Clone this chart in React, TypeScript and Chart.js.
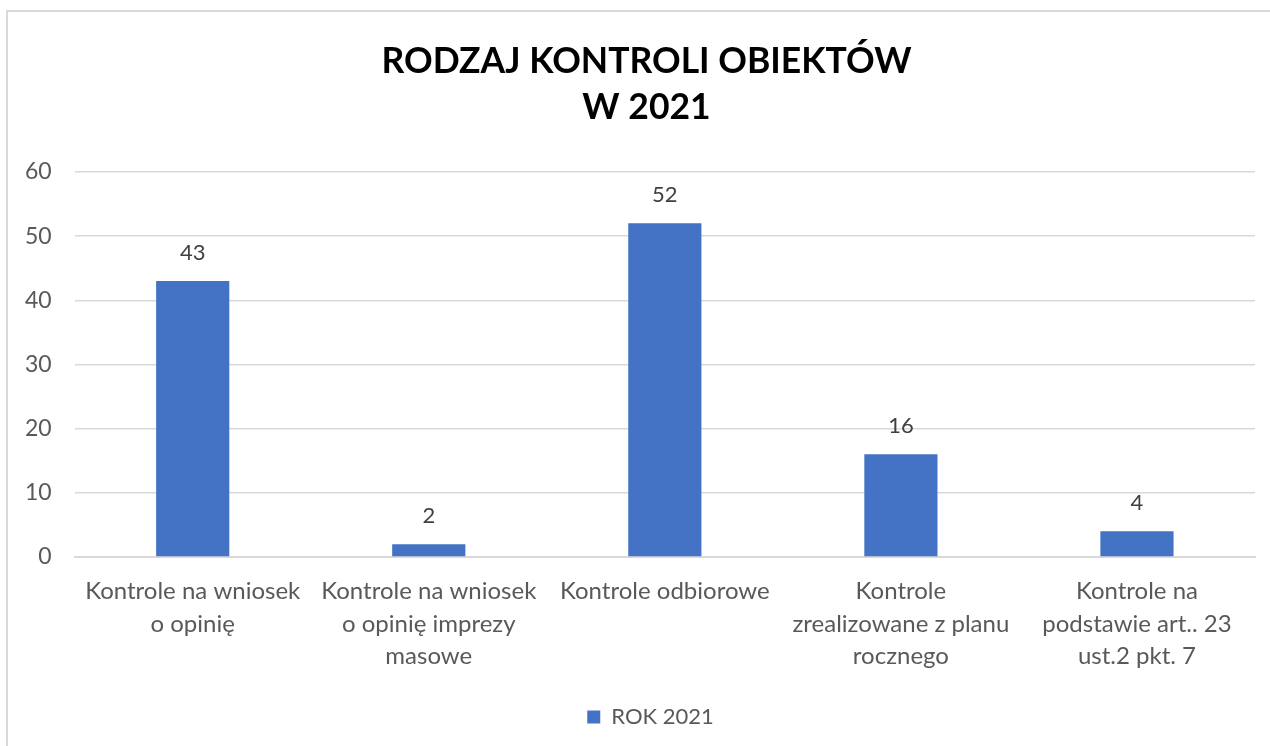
import React, { useEffect, useRef } from "react";
import { Chart, registerables } from "chart.js";

Chart.register(...registerables);

const categories: string[][] = [
  ["Kontrole na wniosek", "o opinię"],
  ["Kontrole na wniosek", "o opinię imprezy", "masowe"],
  ["Kontrole odbiorowe"],
  ["Kontrole", "zrealizowane z planu", "rocznego"],
  ["Kontrole na", "podstawie art.. 23", "ust.2 pkt. 7"],
];
const values: number[] = [43, 2, 52, 16, 4];
const seriesName = "ROK 2021";
const titleLines = ["RODZAJ KONTROLI OBIEKTÓW", "W 2021"];
const yTicks = { min: 0, max: 60, step: 10 };

const FONT = "Lato, 'Open Sans', sans-serif";

const dataLabels = {
  id: "dataLabels",
  afterLayout(chart: any) {
    if (chart.titleBlock) {
      chart.titleBlock.left += 18;
      chart.titleBlock.right += 18;
    }
    if (chart.legend) {
      chart.legend.left += 22;
      chart.legend.right += 22;
    }
  },
  afterDatasetsDraw(chart: any) {
    const ctx = chart.ctx;
    const meta = chart.getDatasetMeta(0);
    ctx.save();
    ctx.font = `22px ${FONT}`;
    ctx.fillStyle = "#404040";
    ctx.textAlign = "center";
    ctx.textBaseline = "alphabetic";
    meta.data.forEach((bar: any, i: number) => {
      ctx.fillText(String(values[i]), bar.x, bar.y - 21);
    });
    ctx.restore();
  },
};

export default function App() {
  const ref = useRef<HTMLCanvasElement>(null);
  useEffect(() => {
    if (!ref.current) return;
    const chart = new Chart(ref.current, {
      type: "bar",
      data: {
        labels: categories,
        datasets: [
          {
            label: seriesName,
            data: values,
            backgroundColor: "#4472C4",
            barPercentage: 1,
            categoryPercentage: 0.31,
          },
        ],
      },
      options: {
        animation: false,
        responsive: true,
        maintainAspectRatio: false,
        layout: { padding: { left: 2, right: 15, top: 30, bottom: 8 } },
        plugins: {
          title: {
            display: true,
            text: titleLines,
            color: "#000000",
            font: { family: FONT, size: 35.5, weight: "bold", lineHeight: 1.296 },
            padding: { top: 9, bottom: 41 },
          },
          legend: {
            display: true,
            position: "bottom",
            labels: {
              color: "#595959",
              font: { family: FONT, size: 22 },
              boxWidth: 13,
              boxHeight: 13,
              padding: 10,
            },
          },
          tooltip: { enabled: false },
        },
        scales: {
          x: {
            grid: { display: false },
            border: { display: true, color: "#d9d9d9", width: 2 },
            ticks: {
              color: "#595959",
              font: { family: FONT, size: 24, lineHeight: 1.36 },
              padding: 10,
              maxRotation: 0,
              autoSkip: false,
            },
            afterFit(scale: any) {
              scale.height = 139;
            },
          },
          y: {
            min: yTicks.min,
            max: yTicks.max,
            grid: { color: "#d9d9d9", lineWidth: 1.5, drawTicks: false },
            border: { display: false },
            ticks: {
              stepSize: yTicks.step,
              color: "#595959",
              font: { family: FONT, size: 23 },
              padding: 23,
            },
          },
        },
      },
      plugins: [dataLabels],
    });
    return () => chart.destroy();
  }, []);

  return (
    <div style={{ position: "absolute", left: 0, top: 0, width: 1270, height: 746, background: "#fff" }}>
      <div
        style={{
          position: "absolute",
          left: 6,
          top: 10,
          width: 1270,
          height: 746,
          borderLeft: "2px solid #d9d9d9",
          borderTop: "2px solid #d9d9d9",
          boxSizing: "border-box",
        }}
      />
      <canvas ref={ref} style={{ position: "absolute", left: 0, top: 0 }} />
    </div>
  );
}
